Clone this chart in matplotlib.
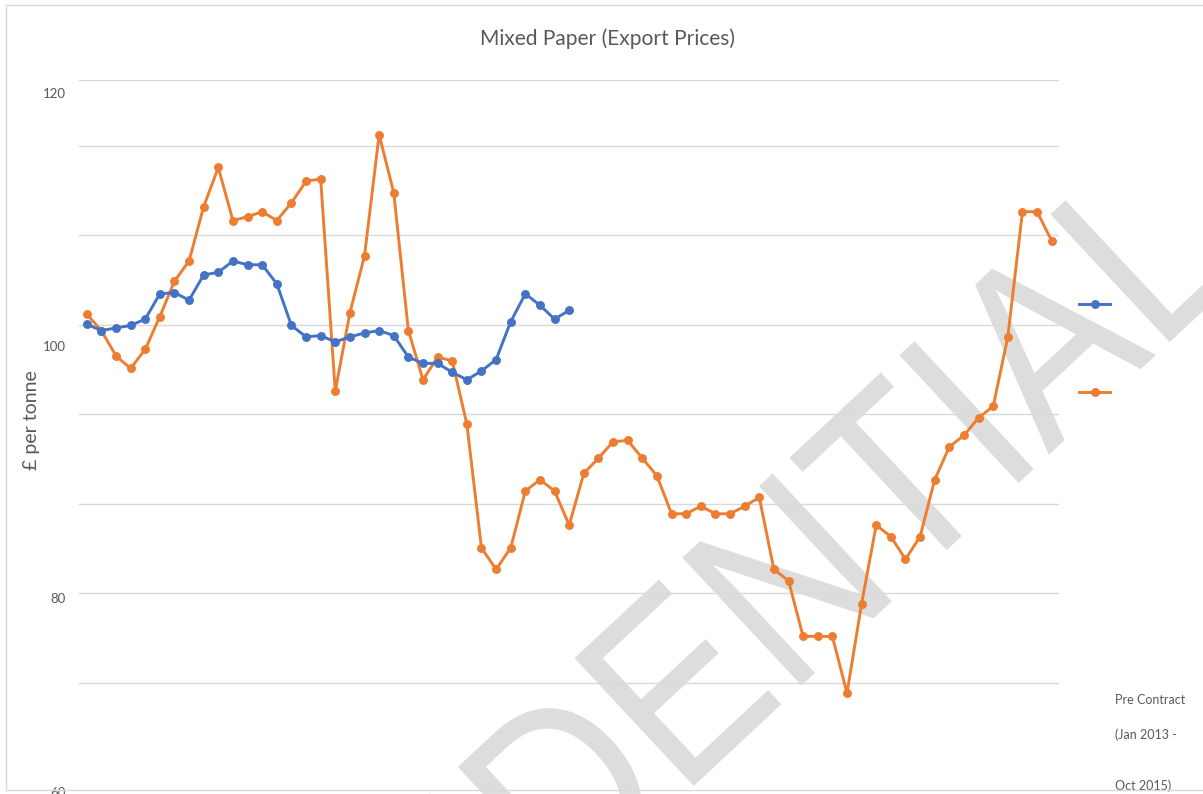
import matplotlib
matplotlib.use("Agg")
import matplotlib.pyplot as plt
import numpy as np
from matplotlib.lines import Line2D
from matplotlib.patches import Rectangle, PathPatch
from matplotlib.textpath import TextPath
from matplotlib.font_manager import FontProperties
from matplotlib.transforms import Affine2D, IdentityTransform

# ---------------- data ----------------
title = "Mixed Paper (Export Prices)"
y_label = "£ per tonne"
y_tick_values = [120, 100, 80]
y_tick_labels = ["120", "100", "80"]
bottom_tick_label = "60"
legend_text = ["Pre Contract", "(Jan 2013 -", "", "Oct 2015)"]
watermark = "CONFIDENTIAL"

# Pre contract series (Jan 2013 - Oct 2015), monthly
pre_contract = [101.7, 101.2, 101.4, 101.6, 102.1, 104.1, 104.2, 103.6, 105.6, 105.8,
                106.7, 106.4, 106.4, 104.9, 101.6, 100.7, 100.8, 100.3, 100.7, 101.0,
                101.2, 100.8, 99.1, 98.6, 98.6, 97.9, 97.3, 98.0, 98.9, 101.9,
                104.1, 103.2, 102.1, 102.8]

# Export price series, monthly from Jan 2013
export_price = [102.5, 101.2, 99.2, 98.2, 99.7, 102.3, 105.1, 106.7, 111.0, 114.1,
                109.9, 110.2, 110.6, 109.9, 111.3, 113.0, 113.2, 96.4, 102.6, 107.1,
                116.7, 112.1, 101.2, 97.3, 99.1, 98.8, 93.8, 84.0, 82.3, 84.0,
                88.5, 89.4, 88.5, 85.8, 89.9, 91.1, 92.4, 92.5, 91.1, 89.7,
                86.7, 86.7, 87.3, 86.7, 86.7, 87.3, 88.0, 82.3, 81.4, 77.0,
                77.0, 77.0, 72.5, 79.6, 85.8, 84.9, 83.1, 84.9, 89.4, 92.0,
                92.9, 94.3, 95.2, 100.7, 110.6, 110.6, 108.3]

# horizontal gridline levels as rendered in the source chart
grid_levels = [121.0, 115.8, 108.76, 101.64, 94.6, 87.48, 80.44, 73.32]

# ---------------- figure ----------------
W, H = 1203, 794
fig = plt.figure(figsize=(W / 100, H / 100), dpi=100)
fig.patch.set_facecolor("white")

TXT = "#595959"
BLUE = "#4472C4"
ORANGE = "#ED7D31"
GRID = "#d9d9d9"
FONT = ["Lato", "DejaVu Sans"]

def fx(px):
    return px / W

def fy(py):
    return 1 - py / H

left_px, right_px, top_px, bottom_px = 79.4, 1059.0, 80.0, 794.0
ax = fig.add_axes([fx(left_px), fy(bottom_px), fx(right_px - left_px), (bottom_px - top_px) / H])
ax.set_facecolor("none")
n = len(export_price)
ax.set_xlim(-0.5, n - 0.5)
ax.set_ylim(64.53, 121.02)

for g in grid_levels:
    ax.axhline(g, color=GRID, lw=1.0, zorder=1)

x_exp = np.arange(len(export_price))
x_pre = np.arange(len(pre_contract))
ax.plot(x_exp, export_price, color=ORANGE, lw=2.1, marker="o", ms=5.4, zorder=3)
ax.plot(x_pre, pre_contract, color=BLUE, lw=2.1, marker="o", ms=5.4, zorder=4)

for s in ax.spines.values():
    s.set_visible(False)
ax.set_xticks([])
ax.set_yticks(y_tick_values)
ax.set_yticklabels(y_tick_labels, fontsize=9.5, color=TXT, family=FONT)
ax.tick_params(axis="y", length=0, pad=9.6)

# "60" label partially cut at the bottom edge, as in the source
fig.text(fx(66), fy(793), bottom_tick_label, ha="right", va="center",
         fontsize=9.5, color=TXT, family=FONT)

fig.text(fx(607.5), fy(39), title, ha="center", va="center",
         fontsize=15.1, color=TXT, family=FONT)
fig.text(fx(31), fy(420), y_label, ha="center", va="center", rotation=90,
         fontsize=14, color=TXT, family=FONT)

# legend markers
for yy, col in [(304, BLUE), (392, ORANGE)]:
    fig.add_artist(Line2D([fx(1079), fx(1110)], [fy(yy), fy(yy)], color=col, lw=2.1,
                          transform=fig.transFigure))
    fig.add_artist(Line2D([fx(1095)], [fy(yy)], color=col, marker="o", ms=5.4,
                          transform=fig.transFigure))

for txt, yy in zip(legend_text, [700, 735, 760, 786]):
    if txt:
        fig.text(fx(1115), fy(yy), txt, ha="left", va="center", fontsize=9,
                 color=TXT, family=FONT)

# watermark (rotated, slightly condensed text outline, behind the chart marks)
fp = FontProperties(family="Liberation Sans")
tp = TextPath((0, 0), watermark, size=254, prop=fp)
tr = Affine2D().scale(0.87, 1.0).rotate_deg(43).translate(61, -582)
wm = PathPatch(tr.transform_path(tp), facecolor="#dddddd", edgecolor="none",
               transform=IdentityTransform(), zorder=-1)
fig.add_artist(wm)

# chart border
fig.add_artist(Rectangle((6, H - 790), 2000, 785, facecolor="none", edgecolor=GRID,
                         lw=1.0, transform=IdentityTransform(), zorder=6))

fig.savefig("out.png", dpi=100)
